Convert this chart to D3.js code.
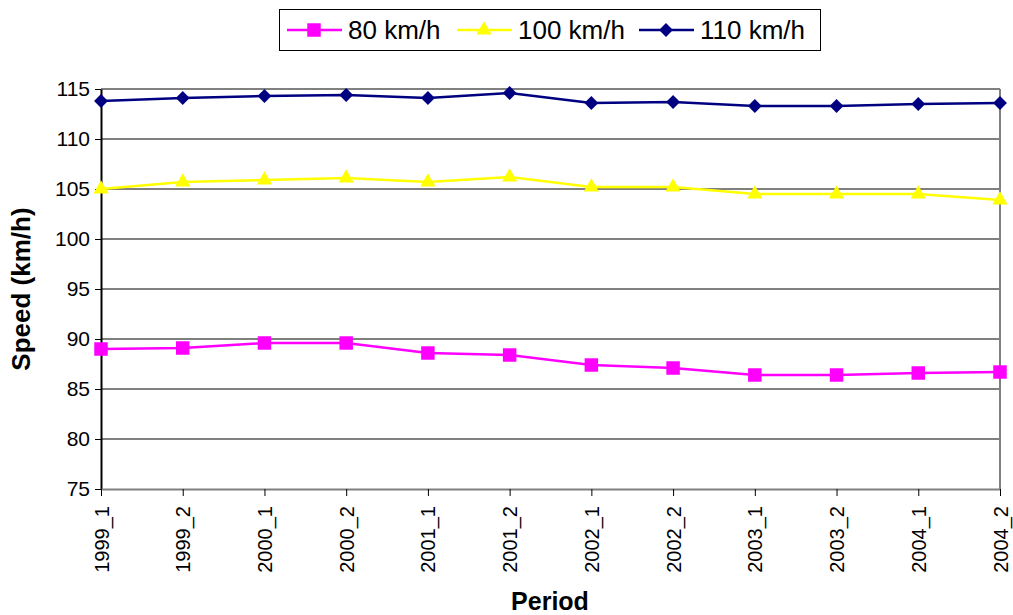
<!DOCTYPE html>
<html>
<head>
<meta charset="utf-8">
<script src="https://d3js.org/d3.v7.min.js"></script>
<style>
  body { margin: 0; background: #fff; }
  svg { font-family: "Liberation Sans", Arial, sans-serif; }
</style>
</head>
<body>
<svg id="chart" width="1013" height="615"></svg>
<script>
// periods on the x axis
const periods = ["1999_1","1999_2","2000_1","2000_2","2001_1","2001_2",
                 "2002_1","2002_2","2003_1","2003_2","2004_1","2004_2"];

// mean speeds per speed-limit class
const speed80  = [89.0, 89.1, 89.6, 89.6, 88.6, 88.4, 87.4, 87.1, 86.4, 86.4, 86.6, 86.7];
const speed100 = [105.0, 105.7, 105.9, 106.1, 105.7, 106.2, 105.2, 105.2, 104.5, 104.5, 104.5, 103.9];
const speed110 = [113.8, 114.1, 114.3, 114.4, 114.1, 114.6, 113.6, 113.7, 113.3, 113.3, 113.5, 113.6];

const yTicks = [75, 80, 85, 90, 95, 100, 105, 110, 115];

// excel-ish markers: square, triangle, diamond (square turned 45deg)
const series = [
  { name: "80 km/h",  values: speed80,  color: "#FF00FF", symbol: d3.symbolSquare,   size: 182, rot: 0 },
  { name: "100 km/h", values: speed100, color: "#FFFF00", symbol: d3.symbolTriangle, size: 100, rot: 0 },
  { name: "110 km/h", values: speed110, color: "#000080", symbol: d3.symbolSquare,   size: 96,  rot: 45 }
];

const svg = d3.select("#chart");
const plotL = 101, plotR = 1000, plotT = 89, plotB = 489;

const x = d3.scalePoint().domain(periods).range([plotL, plotR]).padding(0);
const y = d3.scaleLinear().domain([75, 115]).range([plotB, plotT]);

// gridlines
svg.append("g")
  .selectAll("line")
  .data(yTicks.filter(d => d > 75 && d < 115))
  .join("line")
  .attr("x1", plotL).attr("x2", plotR)
  .attr("y1", d => y(d)).attr("y2", d => y(d))
  .attr("stroke", "#000").attr("stroke-width", 1);

// plot frame (top / right gray)
svg.append("line").attr("x1", plotL).attr("x2", plotR).attr("y1", plotT).attr("y2", plotT)
  .attr("stroke", "#808080").attr("stroke-width", 2);
svg.append("line").attr("x1", plotR).attr("x2", plotR).attr("y1", plotT).attr("y2", plotB)
  .attr("stroke", "#808080").attr("stroke-width", 2);

// y axis
const yAxis = svg.append("g")
  .attr("transform", `translate(${plotL},0)`)
  .call(d3.axisLeft(y).tickValues(yTicks).tickSize(6).tickSizeOuter(0).tickPadding(5));
yAxis.select(".domain").attr("stroke", "#000").attr("stroke-width", 2);
yAxis.selectAll(".tick line").attr("stroke", "#000");
yAxis.selectAll("text").attr("font-size", 21).attr("fill", "#000");

// x axis
const xAxis = svg.append("g")
  .attr("transform", `translate(0,${plotB})`)
  .call(d3.axisBottom(x).tickSize(7).tickSizeOuter(0));
xAxis.select(".domain").attr("stroke", "#808080").attr("stroke-width", 2);
xAxis.selectAll(".tick line").attr("stroke", "#000");
xAxis.selectAll("text")
  .attr("font-size", 20).attr("fill", "#000")
  .attr("transform", "rotate(-90)")
  .attr("text-anchor", "end")
  .attr("dy", "0.35em")
  .attr("x", -17).attr("y", 0);

// lines + markers
const line = d3.line().x((d, i) => x(periods[i])).y(d => y(d));
series.forEach(s => {
  svg.append("path")
    .attr("d", line(s.values))
    .attr("fill", "none")
    .attr("stroke", s.color)
    .attr("stroke-width", 2.5);
  svg.append("g")
    .selectAll("path")
    .data(s.values)
    .join("path")
    .attr("transform", (d, i) => `translate(${x(periods[i])},${y(d)}) rotate(${s.rot})`)
    .attr("d", d3.symbol().type(s.symbol).size(s.size))
    .attr("fill", s.color);
});

// axis titles
svg.append("text")
  .attr("transform", "translate(30,289) rotate(-90)")
  .attr("text-anchor", "middle")
  .attr("font-size", 26).attr("font-weight", "bold")
  .text("Speed (km/h)");
svg.append("text")
  .attr("x", 550).attr("y", 610)
  .attr("text-anchor", "middle")
  .attr("font-size", 25).attr("font-weight", "bold")
  .text("Period");

// legend
const legend = svg.append("g");
legend.append("rect")
  .attr("x", 279.5).attr("y", 9.5).attr("width", 541).attr("height", 41)
  .attr("fill", "#fff").attr("stroke", "#000").attr("stroke-width", 1);
const legX = [287, 457, 639];
series.forEach((s, i) => {
  const g = legend.append("g").attr("transform", `translate(${legX[i]},30)`);
  g.append("line").attr("x1", 0).attr("x2", 55).attr("y1", 0).attr("y2", 0)
    .attr("stroke", s.color).attr("stroke-width", 2.5);
  g.append("path").attr("transform", `translate(27,0) rotate(${s.rot})`)
    .attr("d", d3.symbol().type(s.symbol).size(s.size)).attr("fill", s.color);
  g.append("text").attr("x", 61).attr("y", 0).attr("dy", "0.36em")
    .attr("font-size", 26).text(s.name);
});
</script>
</body>
</html>
